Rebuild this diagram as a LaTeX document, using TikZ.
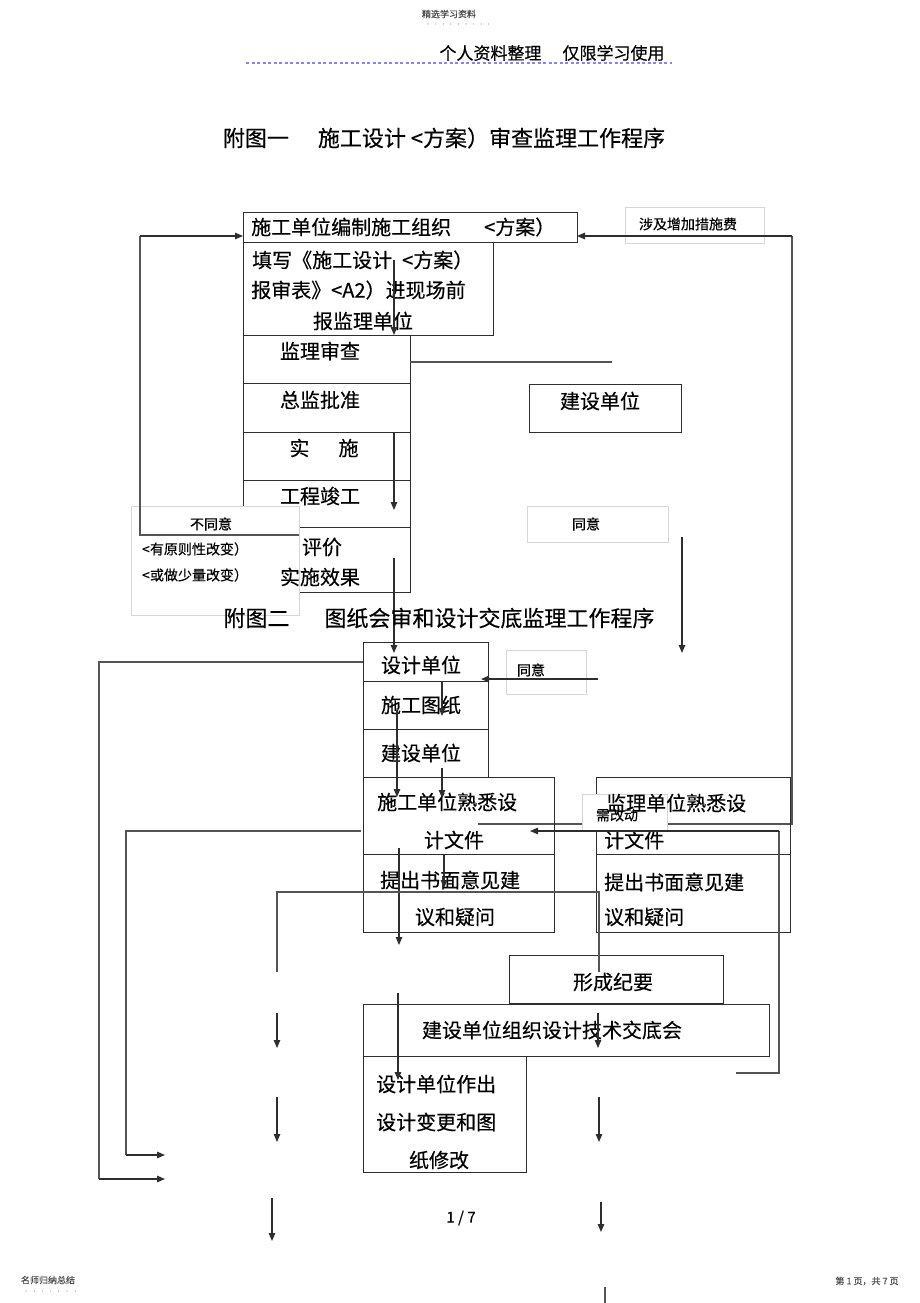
\documentclass[tikz,border=0pt]{standalone}
\usepackage{fontspec}
\setmainfont{Noto Sans CJK SC}[FakeBold=0.35]
\usepackage{xcolor}
\usetikzlibrary{arrows.meta}
\definecolor{ink}{HTML}{2E2E2E}
\definecolor{wirecol}{HTML}{555555}
\definecolor{tagline}{HTML}{D6D6D6}
\definecolor{headblue}{HTML}{8484F2}
\newcommand\fsz[1]{\fontsize{#1}{#1}\selectfont}

\begin{document}
\begin{tikzpicture}[x=1pt, y=-1pt,
    box/.style={draw=ink, line width=1.2pt, anchor=north west, inner sep=0pt},
    tagbox/.style={draw=tagline, fill=white, line width=0.8pt, anchor=north west, inner sep=0pt},
    boxtext/.style={inner sep=0pt, font=\fsz{20}},
    tagtext/.style={inner sep=0pt, font=\fsz{14}},
    flow/.style={-{Triangle[length=8pt,width=6.5pt]}, line width=1.2pt, draw=ink},
    wire/.style={line width=1.1pt, draw=wirecol}]
    \fill[white] (0,0) rectangle (920,1303);
    \useasboundingbox (0,0) rectangle (920,1303);

    % page header and footer
    \node[inner sep=0pt, font=\fsz{9}, text=black!70] (topnote) at (449,14) {精选学习资料};
    \foreach \i in {0,...,8} \fill[black!45] (428+\i*7.6,24) circle (0.6);
    \node[inner sep=0pt, font=\fsz{17}] (privacy) at (552,53) {个人资料整理\hspace{21pt}仅限学习使用};
    \draw[headblue, line width=1.6pt, dash pattern=on 3pt off 2.5pt] (246,63) -- (672,63);
    \node[inner sep=0pt, font=\fsz{9}, text=black!70] (footleft) at (48,1280) {名师归纳总结};
    \foreach \i in {0,...,6} \fill[black!45] (26+\i*8.2,1291) circle (0.6);
    \node[inner sep=0pt, font=\fsz{9}, text=black!70] (footright) at (867,1281) {第 1 页，共 7 页};
    \node[inner sep=0pt, font=\fsz{15}] (pageno) at (461,1218) {1 / 7};

    % figure one
    \node[inner sep=0pt, font=\fsz{22}] (titleA) at (444,138) {附图一\hspace{29pt}施工设计 <方案）审查监理工作程序};

    \node[box, minimum width=334pt, minimum height=30pt] (plan) at (243,212) {};
    \node[box, minimum width=250pt, minimum height=93pt] (form) at (243,242) {};
    \node[box, minimum width=167pt, minimum height=48pt] (check) at (243,335) {};
    \node[box, minimum width=167pt, minimum height=49pt] (approve) at (243,383) {};
    \node[box, minimum width=167pt, minimum height=48pt] (build) at (243,432) {};
    \node[box, minimum width=167pt, minimum height=47pt] (finish) at (243,480) {};
    \node[box, minimum width=167pt, minimum height=65pt] (assess) at (243,527) {};
    \node[box, minimum width=152pt, minimum height=48pt] (owner) at (529,384) {};

    \node[tagbox, minimum width=139pt, minimum height=36pt] (costtag) at (625,207) {};
    \node[tagtext] (costT) at (688,224) {涉及增加措施费};
    \node[tagbox, minimum width=168pt, minimum height=109pt] (refusetag) at (131,506) {};
    \node[tagtext] (refuseT1) at (211,524) {不同意};
    \node[tagtext, anchor=west] (refuseT2) at (142,549) {<有原则性改变）};
    \node[tagtext, anchor=west] (refuseT3) at (142,575) {<或做少量改变）};
    \node[tagbox, minimum width=141pt, minimum height=36pt] (agreetag) at (527,506) {};
    \node[tagtext] (agreeT) at (586,524) {同意};

    \node[boxtext, anchor=west] (planT) at (251,227) {施工单位编制施工组织\hspace{33pt}<方案）};
    \node[boxtext, anchor=west] (formT1) at (252,260) {填写《施工设计\hspace{10pt}<方案）};
    \node[boxtext, anchor=west] (formT2) at (251,290) {报审表》<A2）进现场前};
    \node[boxtext] (formT3) at (363,321) {报监理单位};
    \node[boxtext] (checkT) at (320,351) {监理审查};
    \node[boxtext] (approveT) at (320,400) {总监批准};
    \node[boxtext] (buildT) at (324,448) {实\hspace{29pt}施};
    \node[boxtext] (finishT) at (320,496) {工程竣工};
    \node[boxtext] (assessT1) at (322,547) {评价};
    \node[boxtext] (assessT2) at (320,577) {实施效果};
    \node[boxtext] (ownerT) at (600,401) {建设单位};

    \coordinate (formdrop) at (394,260);
    \coordinate (approvedrop) at (394,432);
    \coordinate (finishin) at (394,510);
    \coordinate (assessdrop) at (394,558);
    \coordinate (designin) at (394,653);
    \coordinate (refusefrom) at (299,535);
    \coordinate (refusecorner) at (140,535);
    \coordinate (refusetop) at (140,236);
    \coordinate (plantin) at (243,236);
    \coordinate (costfrom) at (478,824);
    \coordinate (costcorner) at (792,824);
    \coordinate (costtop) at (792,236);
    \coordinate (planin) at (577,236);
    \coordinate (checkout) at (410,362);
    \coordinate (checkend) at (612,362);
    \coordinate (agreefrom) at (682,537);
    \coordinate (agreeto) at (682,653);

    \draw[flow] (formdrop) -- (formdrop |- check.north);
    \draw[flow] (approvedrop) -- (finishin);
    \draw[flow] (assessdrop) -- (designin);
    \draw[wire] (refusefrom) -- (refusecorner) -- (refusetop);
    \draw[flow] (refusetop) -- (plantin);
    \draw[wire] (costfrom) -- (costcorner) -- (costtop);
    \draw[flow] (costtop) -- (planin);
    \draw[wire] (checkout) -- (checkend);
    \draw[flow] (agreefrom) -- (agreeto);

    % figure two
    \node[inner sep=0pt, font=\fsz{22}] (titleB) at (439,618) {附图二\hspace{35pt}图纸会审和设计交底监理工作程序};

    \node[box, minimum width=125pt, minimum height=39pt] (design) at (363,642) {};
    \node[box, minimum width=125pt, minimum height=48pt] (drawing) at (363,681) {};
    \node[box, minimum width=125pt, minimum height=48pt] (client) at (363,729) {};
    \node[box, minimum width=191pt, minimum height=77pt] (cstudy) at (363,777) {};
    \node[box, minimum width=191pt, minimum height=78pt] (cquery) at (363,854) {};
    \node[box, minimum width=194pt, minimum height=77pt] (sstudy) at (596,777) {};
    \node[box, minimum width=194pt, minimum height=78pt] (squery) at (596,854) {};
    \node[box, minimum width=214pt, minimum height=48pt] (minutes) at (509,955) {};
    \node[box, minimum width=406pt, minimum height=52pt] (meeting) at (363,1004) {};
    \node[box, minimum width=163pt, minimum height=116pt] (revise) at (363,1056) {};

    \node[tagbox, minimum width=80pt, minimum height=44pt] (agreetagB) at (506,650) {};
    \node[tagtext] (agreeTB) at (531,670) {同意};
    \node[tagbox, minimum width=85pt, minimum height=36pt] (changetag) at (582,794) {};
    \node[tagtext] (changeT) at (617,815) {需改动};

    \node[boxtext] (designT) at (421,665) {设计单位};
    \node[boxtext] (drawingT) at (421,705) {施工图纸};
    \node[boxtext] (clientT) at (421,753) {建设单位};
    \node[boxtext, anchor=west] (cstudyT1) at (377,802) {施工单位熟悉设};
    \node[boxtext] (cstudyT2) at (454,840) {计文件};
    \node[boxtext, anchor=west] (cqueryT1) at (380,880) {提出书面意见建};
    \node[boxtext] (cqueryT2) at (455,917) {议和疑问};
    \node[boxtext, anchor=west] (sstudyT1) at (606,803) {监理单位熟悉设};
    \node[boxtext, anchor=west] (sstudyT2) at (604,840) {计文件};
    \node[boxtext, anchor=west] (squeryT1) at (604,882) {提出书面意见建};
    \node[boxtext, anchor=west] (squeryT2) at (604,917) {议和疑问};
    \node[boxtext] (minutesT) at (613,982) {形成纪要};
    \node[boxtext] (meetingT) at (552,1030) {建设单位组织设计技术交底会};
    \node[boxtext, anchor=west] (reviseT1) at (376,1084) {设计单位作出};
    \node[boxtext, anchor=west] (reviseT2) at (376,1122) {设计变更和图};
    \node[boxtext] (reviseT3) at (439,1160) {纸修改};

    \coordinate (agreeBfrom) at (598,679);
    \coordinate (designright) at (481,679);
    \coordinate (designdrop) at (442,681);
    \coordinate (drawingin) at (442,716);
    \coordinate (drawingdrop) at (397,710);
    \coordinate (cstudyin) at (397,797);
    \coordinate (clientdrop) at (442,768);
    \coordinate (cstudyinB) at (442,798);
    \coordinate (cstudydrop) at (399,848);
    \coordinate (cqueryout) at (399,945);
    \coordinate (cquerydrop) at (444,855);
    \coordinate (cqueryin) at (444,888);
    \coordinate (meetdrop) at (398,993);
    \coordinate (revisein) at (398,1080);
    \coordinate (minutesdrop) at (598,1013);
    \coordinate (minutesin) at (598,1048);
    \coordinate (loopAcorner) at (99,662);
    \coordinate (loopAlow) at (99,1179);
    \coordinate (loopAend) at (165,1179);
    \coordinate (loopBfrom) at (361,831);
    \coordinate (loopBcorner) at (126,831);
    \coordinate (loopBlow) at (126,1155);
    \coordinate (loopBend) at (165,1155);
    \coordinate (bridgeL) at (277,972);
    \coordinate (bridgeLtop) at (277,892);
    \coordinate (bridgeRtop) at (599,892);
    \coordinate (bridgeR) at (599,972);
    \coordinate (leftA1) at (277,1013);
    \coordinate (leftA2) at (277,1048);
    \coordinate (leftB1) at (277,1097);
    \coordinate (leftB2) at (277,1142);
    \coordinate (leftC1) at (272,1198);
    \coordinate (leftC2) at (272,1241);
    \coordinate (rightB1) at (599,1097);
    \coordinate (rightB2) at (599,1142);
    \coordinate (rightC1) at (601,1202);
    \coordinate (rightC2) at (601,1232);
    \coordinate (rightD1) at (605,1287);
    \coordinate (rightD2) at (605,1303);
    \coordinate (superfrom) at (736,1073);
    \coordinate (supercorner) at (779,1073);
    \coordinate (supertop) at (779,831);
    \coordinate (superto) at (530,831);

    \draw[flow] (agreeBfrom) -- (designright);
    \draw[flow] (designdrop) -- (drawingin);
    \draw[flow] (drawingdrop) -- (cstudyin);
    \draw[flow] (clientdrop) -- (cstudyinB);
    \draw[flow] (cstudydrop) -- (cqueryout);
    \draw[flow] (cquerydrop) -- (cqueryin);
    \draw[flow] (meetdrop) -- (revisein);
    \draw[flow] (minutesdrop) -- (minutesin);
    \draw[wire] (design.west |- loopAcorner) -- (loopAcorner) -- (loopAlow);
    \draw[flow] (loopAlow) -- (loopAend);
    \draw[wire] (loopBfrom) -- (loopBcorner) -- (loopBlow);
    \draw[flow] (loopBlow) -- (loopBend);
    \draw[wire] (bridgeL) -- (bridgeLtop) -- (bridgeRtop) -- (bridgeR);
    \draw[flow] (leftA1) -- (leftA2);
    \draw[flow] (leftB1) -- (leftB2);
    \draw[flow] (leftC1) -- (leftC2);
    \draw[flow] (rightB1) -- (rightB2);
    \draw[flow] (rightC1) -- (rightC2);
    \draw[wire] (rightD1) -- (rightD2);
    \draw[wire] (superfrom) -- (supercorner) -- (supertop);
    \draw[flow] (supertop) -- (superto);
\end{tikzpicture}
\end{document}
